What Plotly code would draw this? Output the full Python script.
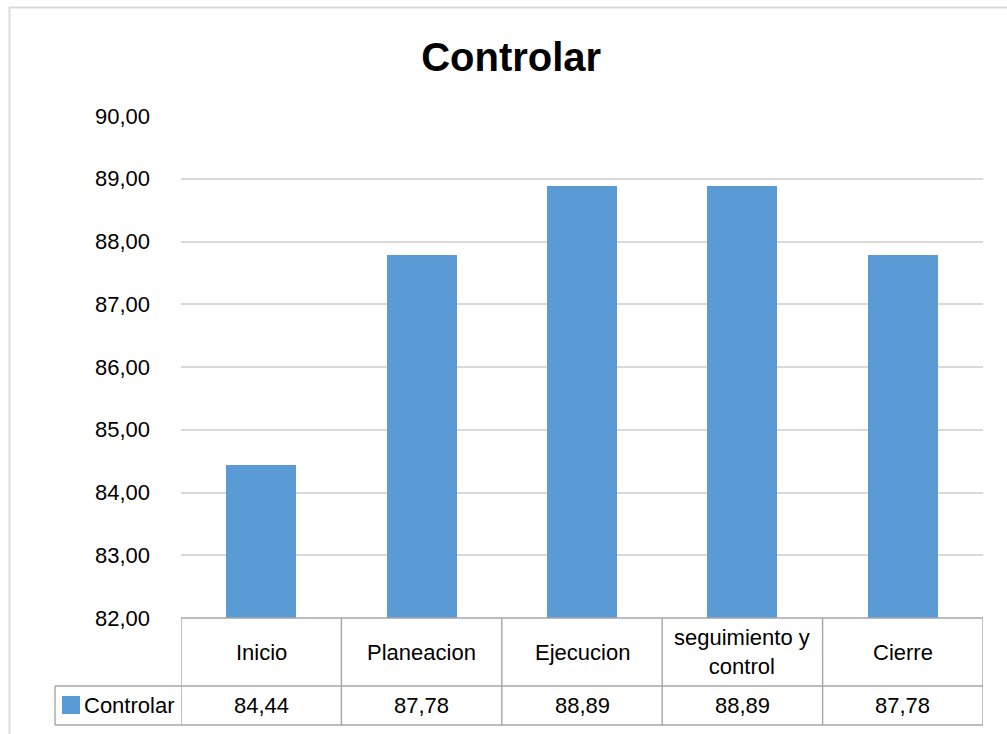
import plotly.graph_objects as go

categories = ["Inicio", "Planeacion", "Ejecucion", "seguimiento y<br>control", "Cierre"]
values = [84.44, 87.78, 88.89, 88.89, 87.78]
series_name = "Controlar"
y_ticks = [82, 83, 84, 85, 86, 87, 88, 89, 90]

BAR_COLOR = "#5b9bd5"
GRID_COLOR = "#d9d9d9"
TABLE_COLOR = "#a6a6a6"
FONT = "Liberation Sans, Arial, sans-serif"
TXT = 22

W, H = 1007, 734
M_L, M_R, M_T, M_B = 181, 24, 116, 116
plot_h = H - M_T - M_B
plot_w = W - M_L - M_R


def py(px):
    """Pixel row -> paper y."""
    return (H - M_B - px) / plot_h


def pxx(px):
    """Pixel column -> paper x."""
    return (px - M_L) / plot_w


xs = list(range(len(categories)))

fig = go.Figure(
    go.Bar(
        x=xs,
        y=[v - y_ticks[0] for v in values],
        base=y_ticks[0],
        marker=dict(color=BAR_COLOR, line=dict(width=0)),
        width=0.436,
        name=series_name,
        showlegend=False,
        hoverinfo="skip",
    )
)

# data table under the plot: grid lines
row1_bottom = py(686)
row2_bottom = py(725)
legend_left = pxx(55)
shapes = []
line = dict(color=TABLE_COLOR, width=1.4)
# horizontal rules
shapes.append(dict(type="line", xref="paper", yref="paper", x0=0, x1=1, y0=0, y1=0, line=line))
shapes.append(dict(type="line", xref="paper", yref="paper", x0=legend_left, x1=1,
                   y0=row1_bottom, y1=row1_bottom, line=line))
shapes.append(dict(type="line", xref="paper", yref="paper", x0=legend_left, x1=1,
                   y0=row2_bottom, y1=row2_bottom, line=line))
# vertical rules at category boundaries
for i in range(len(categories) + 1):
    shapes.append(dict(type="line", xref="x", yref="paper", x0=i - 0.5, x1=i - 0.5,
                       y0=row2_bottom, y1=0, line=line))
shapes.append(dict(type="line", xref="paper", yref="paper", x0=legend_left, x1=legend_left,
                   y0=row2_bottom, y1=row1_bottom, line=line))
# legend key square
shapes.append(dict(type="rect", xref="paper", yref="paper", x0=pxx(62), x1=pxx(80),
                   y0=py(714), y1=py(696), fillcolor=BAR_COLOR, line=dict(width=0)))
# chart area frame
shapes.append(dict(type="rect", xref="paper", yref="paper", x0=pxx(9.5), x1=pxx(1020),
                   y0=py(760), y1=py(7.5), line=dict(color=GRID_COLOR, width=1.8),
                   layer="below"))

annotations = []
row1_mid = py(652)
row2_mid = py(705.5)
for i, (cat, v) in enumerate(zip(categories, values)):
    annotations.append(dict(x=i, y=row1_mid, xref="x", yref="paper", text=cat,
                            showarrow=False, font=dict(size=TXT, color="#000000", family=FONT),
                            xanchor="center", yanchor="middle"))
    annotations.append(dict(x=i, y=row2_mid, xref="x", yref="paper",
                            text=f"{v:.2f}".replace(".", ","),
                            showarrow=False, font=dict(size=TXT, color="#000000", family=FONT),
                            xanchor="center", yanchor="middle"))
annotations.append(dict(x=pxx(82), y=row2_mid, xref="paper", yref="paper", text=series_name,
                        showarrow=False, font=dict(size=TXT, color="#000000", family=FONT),
                        xanchor="left", yanchor="middle"))

fig.update_layout(
    width=W,
    height=H,
    margin=dict(l=M_L, r=M_R, t=M_T, b=M_B),
    paper_bgcolor="white",
    plot_bgcolor="white",
    title=dict(text="<b>Controlar</b>", x=0.5076, xanchor="center", y=1 - 57 / H,
               yanchor="middle", font=dict(size=40, color="#000000", family=FONT)),
    xaxis=dict(range=[-0.5, len(categories) - 0.5], showticklabels=False, showgrid=False,
               zeroline=False, showline=False, fixedrange=True),
    yaxis=dict(range=[y_ticks[0], y_ticks[-1]], tickvals=y_ticks,
               ticktext=[f"{t:.2f}".replace(".", ",") for t in y_ticks],
               showgrid=True, gridcolor=GRID_COLOR, gridwidth=1.8, zeroline=False,
               showline=False, ticks="", ticklabelstandoff=30,
               tickfont=dict(size=TXT, color="#000000", family=FONT)),
    shapes=shapes,
    annotations=annotations,
    bargap=0,
)

fig.write_html("out.html")
